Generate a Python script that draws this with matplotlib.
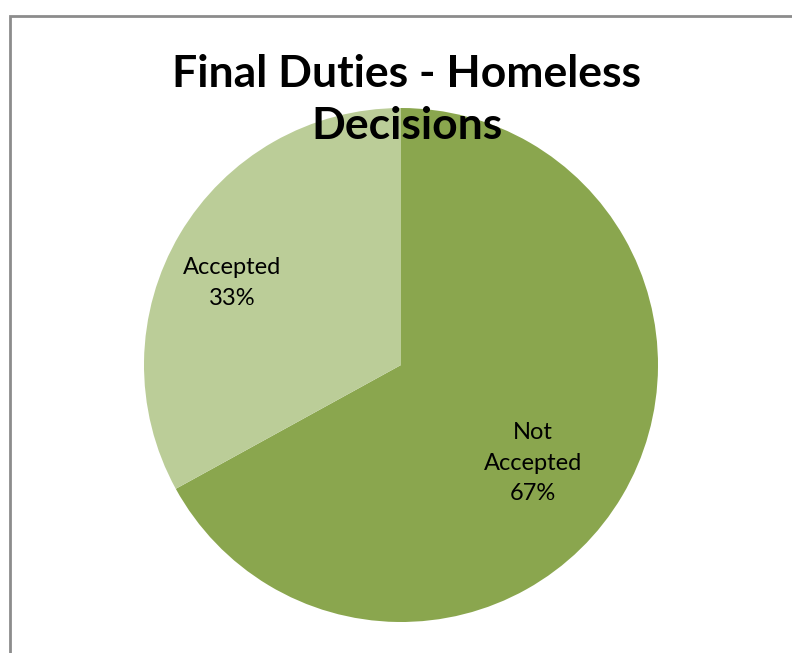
import matplotlib.pyplot as plt
from matplotlib.patches import Rectangle

# Final duties: share of homeless decisions
labels = ['Not\nAccepted', 'Accepted']
shares = [67, 33]
colors = ['#8AA64E', '#BBCD98']

plt.rcParams['font.family'] = ['Lato', 'DejaVu Sans']

fig = plt.figure(figsize=(7.92, 6.53), dpi=100)

# chart area frame (only the left and top edges fall inside the image)
fig.patches.append(Rectangle((10 / 792, -0.1), 1.2, (653 - 16) / 653 + 0.1,
                             transform=fig.transFigure, fill=False,
                             edgecolor='#8c8c8c', linewidth=2))

ax = fig.add_axes([(401 - 257) / 792, (653 - 365 - 257) / 653, 514 / 792, 514 / 653])
wedges, texts = ax.pie(shares, colors=colors, startangle=90, counterclock=False,
                       wedgeprops=dict(linewidth=0))
ax.set_xlim(-1, 1)
ax.set_ylim(-1, 1)
ax.set_aspect('equal')
ax.axis('off')

total = sum(shares)
label_pos = [(533, 463), (232, 283)]
for lab, val, (px, py) in zip(labels, shares, label_pos):
    fig.text(px / 792, 1 - py / 653, f'{lab}\n{round(100 * val / total)}%',
             ha='center', va='center', fontsize=17, linespacing=1.58)

fig.text(407 / 792, 1 - 100 / 653, 'Final Duties - Homeless\nDecisions',
         ha='center', va='center', fontsize=32, fontweight='bold', linespacing=1.35)

fig.savefig('out.png', dpi=100)
